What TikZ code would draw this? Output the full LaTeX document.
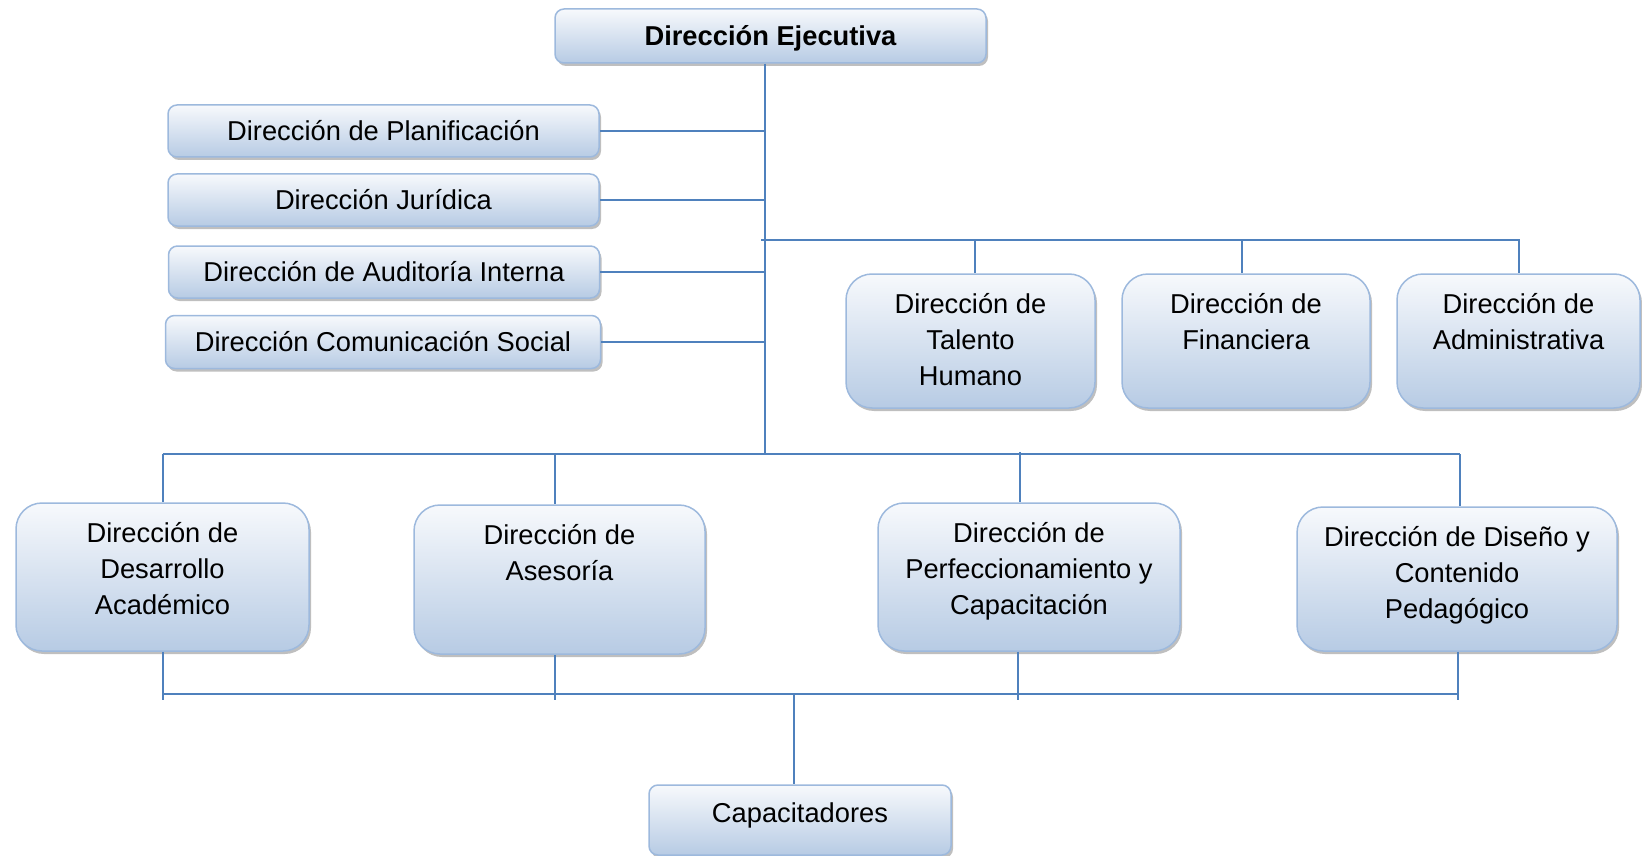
\documentclass[tikz,border=0pt]{standalone}
\usepackage{fontspec}
\setmainfont{Liberation Sans}
\usetikzlibrary{shadows}
\definecolor{lineblue}{HTML}{4F81BD}
\definecolor{boxtop}{HTML}{F7F9FC}
\definecolor{boxbot}{HTML}{B7CBE4}
\definecolor{boxborder}{HTML}{9DB9DD}
\begin{document}
\begin{tikzpicture}[x=1pt,y=-1pt,
  box/.style={draw=boxborder, line width=1.5pt, top color=boxtop, bottom color=boxbot,
    rounded corners=9pt,
    drop shadow={shadow xshift=2pt, shadow yshift=-3pt, fill=black, opacity=0.25},
    inner sep=0pt, font=\fontsize{27.3}{36}\selectfont, text height=19.5pt, text depth=0pt},
  bigbox/.style={box, rounded corners=26pt},
  txt/.style={anchor=north, inner sep=0pt, align=center, font=\fontsize{27.3}{36}\selectfont},
  conn/.style={draw=lineblue, line width=2pt}]
\useasboundingbox (0,0) rectangle (1642,856);

% top
\node[box, minimum width=431pt, minimum height=54pt] (eje) at (770.5,36) {\bfseries Dirección Ejecutiva};

% left staff boxes
\node[box, minimum width=431pt, minimum height=52pt] (pla) at (383.5,131) {Dirección de Planificación};
\node[box, minimum width=431pt, minimum height=52pt] (jur) at (383.5,200) {Dirección Jurídica};
\node[box, minimum width=431pt, minimum height=52pt] (aud) at (384,272) {Dirección de Auditoría Interna};
\node[box, minimum width=435pt, minimum height=53pt] (com) at (383,342) {Dirección Comunicación Social};

% upper right boxes
\node[bigbox, minimum width=249pt, minimum height=134pt] (tal) at (970.5,341) {};
\node[txt] (talT) at ([yshift=-14.5pt]tal.north) {\strut Dirección de\\Talento\\Humano};
\node[bigbox, minimum width=248pt, minimum height=134pt] (fin) at (1246,341) {};
\node[txt] (finT) at ([yshift=-14.5pt]fin.north) {\strut Dirección de\\Financiera};
\node[bigbox, minimum width=243pt, minimum height=134pt] (adm) at (1518.5,341) {};
\node[txt] (admT) at ([yshift=-14.5pt]adm.north) {\strut Dirección de\\Administrativa};

% lower boxes
\node[bigbox, minimum width=293pt, minimum height=148pt] (des) at (162.5,577) {};
\node[txt] (desT) at ([yshift=-14.5pt]des.north) {\strut Dirección de\\Desarrollo\\Académico};
\node[bigbox, minimum width=291pt, minimum height=149pt] (ase) at (559.5,579.5) {};
\node[txt] (aseT) at ([yshift=-14.5pt]ase.north) {\strut Dirección de\\Asesoría};
\node[bigbox, minimum width=302pt, minimum height=148pt] (per) at (1029,577) {};
\node[txt] (perT) at ([yshift=-14.5pt]per.north) {\strut Dirección de\\Perfeccionamiento y\\Capacitación};
\node[bigbox, minimum width=320pt, minimum height=144pt] (dis) at (1457,579) {};
\node[txt] (disT) at ([yshift=-14.5pt]dis.north) {\strut Dirección de Diseño y\\Contenido\\Pedagógico};

% bottom
\node[box, minimum width=302pt, minimum height=70pt] (cap) at (800,820) {};
\node[txt, anchor=center, text height=19.5pt, text depth=0pt] (capT) at (800,813) {Capacitadores};

% connectors
\coordinate (trunkEnd) at (765,454);
\coordinate (bus1) at (761,240);
\coordinate (bus3) at (794,694);

\draw[conn] (eje.south -| trunkEnd) -- (trunkEnd);
\draw[conn] (pla.east) -- (pla.east -| trunkEnd);
\draw[conn] (jur.east) -- (jur.east -| trunkEnd);
\draw[conn] (aud.east) -- (aud.east -| trunkEnd);
\draw[conn] (com.east) -- (com.east -| trunkEnd);

\draw[conn] (bus1) -- (bus1 -| adm.north) -- (adm.north);
\draw[conn] ([xshift=4.5pt]bus1 -| tal.north) -- ([xshift=4.5pt]tal.north);
\draw[conn] ([xshift=-4pt]bus1 -| fin.north) -- ([xshift=-4pt]fin.north);

\draw[conn] (trunkEnd -| des.north) -- ([xshift=3pt]trunkEnd -| dis.north);
\draw[conn] (trunkEnd -| des.north) -- (des.north);
\draw[conn] ([xshift=-4.5pt]trunkEnd -| ase.north) -- ([xshift=-4.5pt]ase.north);
\draw[conn] ([xshift=-9pt,yshift=2pt]trunkEnd -| per.north) -- ([xshift=-9pt]per.north);
\draw[conn] ([xshift=3pt]trunkEnd -| dis.north) -- ([xshift=3pt]dis.north);

\draw[conn] (bus3 -| des.south) -- ([xshift=1pt]bus3 -| dis.south);
\draw[conn] (des.south) -- ([yshift=-6pt]bus3 -| des.south);
\draw[conn] ([xshift=-4.5pt]ase.south) -- ([xshift=-4.5pt,yshift=-6pt]bus3 -| ase.south);
\draw[conn] ([xshift=-11pt]per.south) -- ([xshift=-11pt,yshift=-6pt]bus3 -| per.south);
\draw[conn] ([xshift=1pt]dis.south) -- ([xshift=1pt,yshift=-6pt]bus3 -| dis.south);
\draw[conn] (bus3) -- (bus3 |- cap.north);
\end{tikzpicture}
\end{document}
